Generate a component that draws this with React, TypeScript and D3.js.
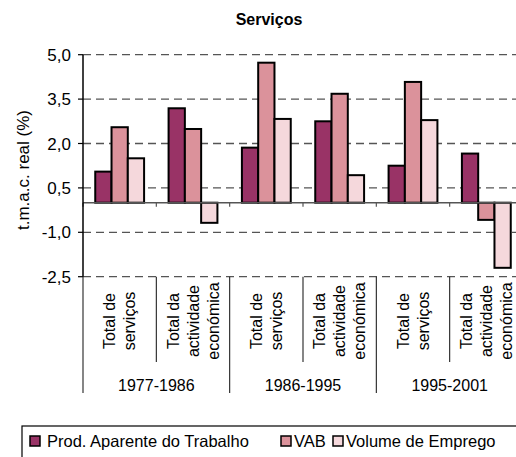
import React from "react";
import * as d3 from "d3";

const periods = ["1977-1986", "1986-1995", "1995-2001"];
const subcategories: string[][] = [
  ["Total de", "serviços"],
  ["Total da", "actividade", "económica"],
];
const seriesNames = ["Prod. Aparente do Trabalho", "VAB", "Volume de Emprego"];
const prodValues = [1.05, 3.19, 1.86, 2.75, 1.25, 1.66];
const vabValues = [2.55, 2.49, 4.73, 3.68, 4.08, -0.58];
const empregoValues = [1.5, -0.68, 2.83, 0.93, 2.79, -2.2];
const yTicks = [5.0, 3.5, 2.0, 0.5, -1.0, -2.5];
const colors = ["#993366", "#DB929B", "#F5D8DC"];

const FONT = "'Liberation Sans', Arial, sans-serif";

export default function App() {
  const W = 516;
  const H = 457;
  const left = 83;
  const right = 523;
  const top = 54.7;
  const bottom = 276.7;

  const cats = periods.flatMap((p, pi) => subcategories.map((s, si) => ({ p, pi, s, si })));
  const series = [prodValues, vabValues, empregoValues];

  const x = d3.scaleBand<number>().domain(d3.range(cats.length)).range([left, right]).padding(0);
  const bw = x.bandwidth();
  const inner = d3.scaleBand<number>().domain([0, 1, 2]).range([bw * 0.167, bw * 0.833]).padding(0);
  const y = d3.scaleLinear().domain([-2.5, 5]).range([bottom, top]);
  const fmt = (v: number) => d3.format(".1f")(v).replace(".", ",").replace("−", "-");

  const y0 = y(0);
  const legendSquares = [30, 281, 333];
  const legendTexts = [47, 294, 346];

  return (
    <svg width={W} height={H} style={{ position: "absolute", left: 0, top: 0, background: "#fff" }} fontFamily={FONT}>
      <rect x={0} y={0} width={W} height={H} fill="#fff" />
      <text x={269} y={25} textAnchor="middle" fontWeight="bold" fontSize={16}>
        Serviços
      </text>
      {yTicks.map((t) => (
        <line key={"g" + t} x1={left} x2={right} y1={y(t)} y2={y(t)} stroke="#555" strokeWidth={1.3} strokeDasharray="8,5" />
      ))}
      {yTicks.map((t) => (
        <g key={"t" + t}>
          <line x1={left - 5} x2={left} y1={y(t)} y2={y(t)} stroke="#000" strokeWidth={1.2} />
          <text x={71} y={y(t)} dy="0.36em" textAnchor="end" fontSize={17}>
            {fmt(t)}
          </text>
        </g>
      ))}
      {cats.map((c, ci) =>
        series.map((vals, si) => {
          const v = vals[ci];
          const bx = (x(ci) as number) + (inner(si) as number);
          const yt = Math.min(y(v), y0);
          const h = Math.abs(y(v) - y0);
          return (
            <rect key={ci + "-" + si} x={bx} y={yt} width={inner.bandwidth()} height={h} fill={colors[si]} stroke="#000" strokeWidth={2} />
          );
        })
      )}
      <line x1={left} x2={right} y1={y0} y2={y0} stroke="#555" strokeWidth={1.5} />
      {cats.map((c, ci) => (
        <line key={"zt" + ci} x1={x(ci) as number} x2={x(ci) as number} y1={y0} y2={y0 + 4} stroke="#555" strokeWidth={1.2} />
      ))}
      <line x1={left} x2={left} y1={top} y2={bottom} stroke="#000" strokeWidth={1.5} />
      {d3.range(cats.length + 1).map((i) => {
        const xx = i < cats.length ? (x(i) as number) : right;
        const major = i % 2 === 0;
        return <line key={"sep" + i} x1={xx} x2={xx} y1={bottom} y2={major ? 393 : 362} stroke="#222" strokeWidth={1.1} />;
      })}
      {cats.map((c, ci) => {
        const cx = (x(ci) as number) + bw / 2;
        const n = c.s.length;
        return c.s.map((line, li) => {
          const lx = cx + (li - (n - 1) / 2) * 20;
          const ly = 321;
          return (
            <text key={"cl" + ci + li} x={lx} y={ly} transform={`rotate(-90 ${lx} ${ly})`} textAnchor="middle" dy="0.36em" fontSize={16}>
              {line}
            </text>
          );
        });
      })}
      {periods.map((p, pi) => {
        const cx = (x(pi * 2) as number) + bw;
        return (
          <text key={"p" + p} x={cx} y={391} textAnchor="middle" fontSize={16}>
            {p}
          </text>
        );
      })}
      <text x={23} y={170} transform="rotate(-90 23 170)" textAnchor="middle" dy="0.36em" fontSize={17}>
        t.m.a.c. real (%)
      </text>
      <rect x={22} y={426} width={520} height={60} fill="#fff" stroke="#000" strokeWidth={1.2} />
      {seriesNames.map((name, i) => (
        <g key={"lg" + i}>
          <rect x={legendSquares[i]} y={436} width={10} height={10} fill={colors[i]} stroke="#000" strokeWidth={1.5} />
          <text x={legendTexts[i]} y={441} dy="0.36em" fontSize={16.5}>
            {name}
          </text>
        </g>
      ))}
    </svg>
  );
}
